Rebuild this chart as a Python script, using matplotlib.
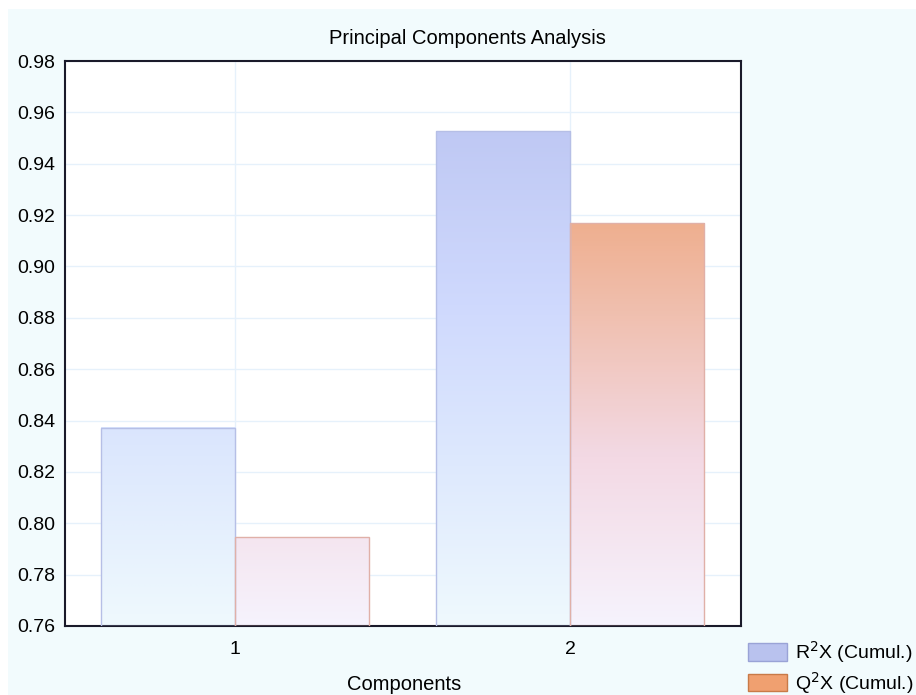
import matplotlib.pyplot as plt
import numpy as np
from matplotlib.colors import LinearSegmentedColormap
from matplotlib.patches import Rectangle, Patch

# Data
components = [1, 2]
r2x_cumul = [0.8371, 0.9527]
q2x_cumul = [0.7946, 0.9169]
y_ticks = [0.76, 0.78, 0.80, 0.82, 0.84, 0.86, 0.88, 0.90, 0.92, 0.94, 0.96, 0.98]

plt.rcParams['font.family'] = ['Liberation Sans', 'DejaVu Sans']

# gradients are tied to the y axis (bottom -> top)
blue_cmap = LinearSegmentedColormap.from_list(
    'blue', [(0.0, '#eff9fe'), (0.3, '#dde8fd'), (0.55, '#d0dafe'), (1.0, '#b9c2f0')])
orange_cmap = LinearSegmentedColormap.from_list(
    'orange', [(0.0, '#f6f3fd'), (0.3, '#f3d9e4'), (0.55, '#f0c0b0'), (0.8, '#eea67e'), (1.0, '#ee9a6c')])

ymin, ymax = 0.76, 0.98
bar_w = 0.4

fig = plt.figure(figsize=(9.16, 6.95), dpi=100, facecolor='white')
fig.patches.append(Rectangle((8 / 916, 0), 1, (695 - 9) / 695, transform=fig.transFigure,
                             facecolor='#f2fbfd', edgecolor='none', zorder=-10))
ax = fig.add_axes([65 / 916, 1 - 626 / 695, 676 / 916, 565 / 695])
ax.set_facecolor('white')


def gradient_bar(ax, x0, top, cmap, edge):
    grad = np.linspace(ymin, top, 200).reshape(-1, 1)
    vals = (grad - ymin) / (ymax - ymin)
    ax.imshow(vals, cmap=cmap, vmin=0, vmax=1, aspect='auto', origin='lower',
              extent=(x0, x0 + bar_w, ymin, top), zorder=2)
    ax.add_patch(Rectangle((x0, ymin), bar_w, top - ymin, facecolor='none',
                           edgecolor=edge, linewidth=1.0, zorder=3))


for c, r, q in zip(components, r2x_cumul, q2x_cumul):
    gradient_bar(ax, c - bar_w, r, blue_cmap, '#b6bfe6')
    gradient_bar(ax, c, q, orange_cmap, '#e0b0a8')

ax.set_xlim(0.493, 2.51)
ax.set_ylim(ymin, ymax)
ax.set_xticks(components)
ax.set_yticks(y_ticks)
ax.set_yticklabels([f'{t:.2f}' for t in y_ticks])
ax.tick_params(length=0, labelsize=14, colors='black')
ax.tick_params(axis='y', pad=7)
ax.tick_params(axis='x', pad=11)
ax.grid(True, color='#e6f1fb', linewidth=1.0, zorder=0)
ax.set_axisbelow(True)
for s in ax.spines.values():
    s.set_color('#1a1a2a')
    s.set_linewidth(1.5)

# title is centred on the figure, not the axes
fig.text(467 / 916, 1 - 39 / 695, 'Principal Components Analysis', fontsize=14.5,
         ha='center', va='center')
fig.text(404 / 916, 1 - 685 / 695, 'Components', fontsize=14.5, ha='center', va='center')

handles = [Patch(facecolor='#b9c2ee', edgecolor='#9aa3d6', label='R$^2$X (Cumul.)'),
           Patch(facecolor='#f0a070', edgecolor='#c87a48', label='Q$^2$X (Cumul.)')]
fig.legend(handles=handles, loc='lower right', bbox_to_anchor=(1.016, -0.026), frameon=False,
           fontsize=14, handlelength=2.0, handleheight=1.0, handletextpad=0.4, labelspacing=0.25)

fig.savefig('out.png', dpi=100)
